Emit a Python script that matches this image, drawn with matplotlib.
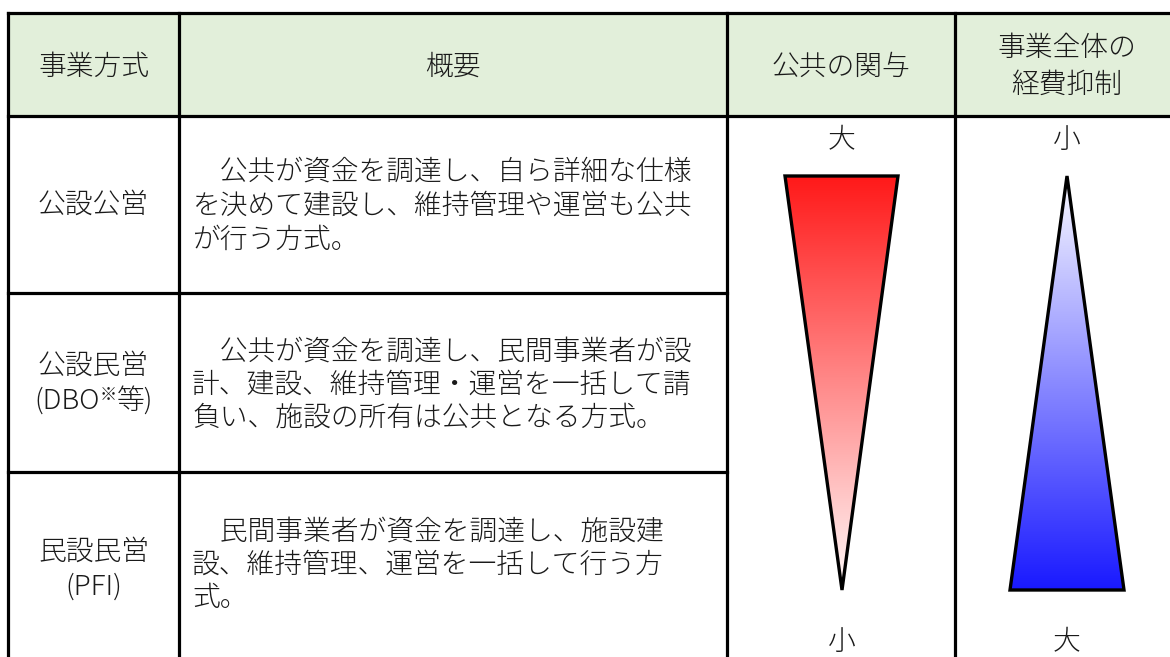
import numpy as np
import matplotlib
matplotlib.use("Agg")
import matplotlib.pyplot as plt
from matplotlib.patches import Polygon, Rectangle

plt.rcParams['font.family'] = ['Noto Sans CJK JP', 'DejaVu Sans']

# ---- table content ----
headers = ["事業方式", "概要", "公共の関与", "事業全体の\n経費抑制"]
row_labels = [["公設公営"], ["公設民営", "(DBO※等)"], ["民設民営", "(PFI)"]]
summaries = [
    ["　公共が資金を調達し、自ら詳細な仕様",
     "を決めて建設し、維持管理や運営も公共",
     "が行う方式。"],
    ["　公共が資金を調達し、民間事業者が設",
     "計、建設、維持管理・運営を一括して請",
     "負い、施設の所有は公共となる方式。"],
    ["　民間事業者が資金を調達し、施設建",
     "設、維持管理、運営を一括して行う方",
     "式。"],
]
involvement_labels = ["大", "小"]   # top, bottom
cost_labels = ["小", "大"]          # top, bottom

# ---- layout ----
W, H = 1170, 657
fig = plt.figure(figsize=(W / 100, H / 100), dpi=100)
ax = fig.add_axes([0, 0, 1, 1])
ax.set_xlim(0, W)
ax.set_ylim(H, 0)
ax.axis('off')

col_x = [8, 179, 727, 955, 1175]
top_y, head_y = 13, 116
row_y = [116, 293, 472, 665]
lw = 2.3
txt_color = '#1a1a1a'
fs = 20
fw = 'light'

# header fill
ax.add_patch(Rectangle((col_x[0], top_y), col_x[-1] - col_x[0], head_y - top_y,
                       facecolor='#E2EFDA', edgecolor='none', zorder=0))
# lines
ax.plot([col_x[0], W], [top_y, top_y], color='k', lw=lw, zorder=3, solid_capstyle='projecting')
ax.plot([col_x[0], W], [head_y, head_y], color='k', lw=lw, zorder=3, solid_capstyle='projecting')
for x in col_x[:4]:
    ax.plot([x, x], [top_y, H + 5], color='k', lw=lw, zorder=3, solid_capstyle='projecting')
for y in row_y[1:3]:
    ax.plot([col_x[0], col_x[2]], [y, y], color='k', lw=lw, zorder=3, solid_capstyle='projecting')

# headers
hcx = [(col_x[i] + col_x[i + 1]) / 2 for i in range(3)] + [1067]
for cx, h in zip(hcx, headers):
    ax.text(cx, (top_y + head_y) / 2 + 2, h, ha='center', va='center', fontsize=fs,
            color=txt_color, linespacing=1.4, fontweight=fw)

# row labels
label_y = [[205], [366, 400], [552, 587]]
fig.canvas.draw()
renderer = fig.canvas.get_renderer()
for lab, ys in zip(row_labels, label_y):
    for s, y in zip(lab, ys):
        cx = (col_x[0] + col_x[1]) / 2
        if "※" in s:
            a, b = s.split("※")
            yb = y + 9  # baseline
            t1 = ax.text(0, yb, a, ha='left', va='baseline', fontsize=fs, color=txt_color, fontweight=fw)
            t2 = ax.text(0, yb - 9, "※", ha='left', va='baseline', fontsize=fs * 0.62, color=txt_color, fontweight=fw)
            t3 = ax.text(0, yb, b, ha='left', va='baseline', fontsize=fs, color=txt_color, fontweight=fw)
            w1 = t1.get_window_extent(renderer).width
            w2 = t2.get_window_extent(renderer).width
            w3 = t3.get_window_extent(renderer).width
            x0 = cx - (w1 + w2 + w3) / 2
            t1.set_x(x0)
            t2.set_x(x0 + w1)
            t3.set_x(x0 + w1 + w2)
        else:
            ax.text(cx, y, s, ha='center', va='center', fontsize=fs, color=txt_color, fontweight=fw)

# summaries
sum_y = [[172, 206, 240], [352, 385, 418], [532, 565, 598]]
for lines, ys in zip(summaries, sum_y):
    for s, y in zip(lines, ys):
        ax.text(192, y, s, ha='left', va='center', fontsize=fs, color=txt_color, fontweight=fw)


def gradient_poly(verts, c_top, c_bot):
    verts = np.array(verts, dtype=float)
    poly = Polygon(verts, closed=True, facecolor='none', edgecolor='k',
                   lw=2.4, joinstyle='miter', zorder=4)
    ax.add_patch(poly)
    y0, y1 = verts[:, 1].min(), verts[:, 1].max()
    x0, x1 = verts[:, 0].min(), verts[:, 0].max()
    t = np.linspace(0, 1, 256)[:, None]
    img = (1 - t) * np.array(c_top) + t * np.array(c_bot)
    img = np.repeat(img[:, None, :], 2, axis=1) / 255.0
    im = ax.imshow(img, extent=(x0, x1, y1, y0), aspect='auto', zorder=2,
                   interpolation='bilinear')
    clip = Polygon(verts, closed=True, transform=ax.transData)
    im.set_clip_path(clip)


# 公共の関与 (red, inverted triangle)
gradient_poly([(785, 176), (898, 176), (842, 590)], (255, 25, 25), (255, 250, 250))
# 経費抑制 (blue triangle)
gradient_poly([(1067, 176), (1124, 590), (1010, 590)], (250, 250, 255), (25, 25, 255))

ax.set_xlim(0, W)
ax.set_ylim(H, 0)

ax.text(842, 140, involvement_labels[0], ha='center', va='center', fontsize=fs, color=txt_color, fontweight=fw)
ax.text(842, 642, involvement_labels[1], ha='center', va='center', fontsize=fs, color=txt_color, fontweight=fw)
ax.text(1067, 140, cost_labels[0], ha='center', va='center', fontsize=fs, color=txt_color, fontweight=fw)
ax.text(1067, 642, cost_labels[1], ha='center', va='center', fontsize=fs, color=txt_color, fontweight=fw)

fig.savefig("out.png", dpi=100, facecolor='white')
